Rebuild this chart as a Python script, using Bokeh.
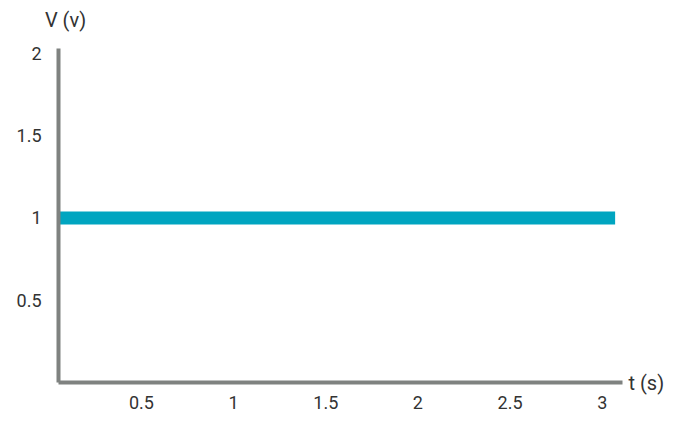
from bokeh.plotting import figure
from bokeh.models import FixedTicker, LinearAxis, Range1d
from bokeh.embed import file_html
from bokeh.resources import INLINE

# data
t_values = [0.05, 3.07]
v_values = [1.0, 1.0]
x_ticks = [0.5, 1, 1.5, 2, 2.5, 3]
x_tick_labels = ["0.5", "1", "1.5", "2", "2.5", "3"]
y_ticks = [0.5, 1, 1.5, 2]
y_tick_labels = ["0.5", "1", "1.5", "2"]
x_axis_title = "t (s)"
y_axis_title = "V (v)"
x_title_at = 0.0      # placed at the right end, level with the x axis
y_title_at = 0.088    # placed above the top of the y axis

p = figure(width=667, height=414, output_backend="svg", toolbar_location=None,
           x_range=Range1d(0.05, 3.11), y_range=Range1d(0, 2.03),
           min_border_left=58, min_border_right=36, min_border_top=48, min_border_bottom=32)
p.outline_line_color = None
p.grid.visible = False
p.background_fill_color = "white"

p.line(t_values, v_values, line_color="#00a5c0", line_width=13, line_cap="butt")

font = "Roboto"
tick_color = "#333333"
for ax in (p.xaxis[0], p.yaxis[0]):
    ax.axis_line_color = "#7f8280"
    ax.axis_line_width = 4
    ax.major_tick_line_color = None
    ax.minor_tick_line_color = None
    ax.major_label_text_font = font
    ax.major_label_text_font_size = "18px"
    ax.major_label_text_color = tick_color

p.xaxis[0].ticker = FixedTicker(ticks=x_ticks)
p.xaxis[0].major_label_overrides = {t: l for t, l in zip(x_ticks, x_tick_labels)}
p.xaxis[0].major_label_standoff = 7
p.yaxis[0].ticker = FixedTicker(ticks=y_ticks)
p.yaxis[0].major_label_overrides = {t: l for t, l in zip(y_ticks, y_tick_labels)}
p.yaxis[0].major_label_standoff = 11

def title_axis(tick, text, standoff):
    ax = LinearAxis(ticker=FixedTicker(ticks=[tick]), major_label_overrides={tick: text})
    ax.axis_line_color = None
    ax.major_tick_line_color = None
    ax.minor_tick_line_color = None
    ax.major_label_text_font = font
    ax.major_label_text_font_size = "20px"
    ax.major_label_text_color = tick_color
    ax.major_label_standoff = standoff
    return ax

p.add_layout(title_axis(y_title_at, y_axis_title, 11), "above")
p.add_layout(title_axis(x_title_at, x_axis_title, 0), "right")

open("out.html", "w").write(file_html(p, INLINE))
